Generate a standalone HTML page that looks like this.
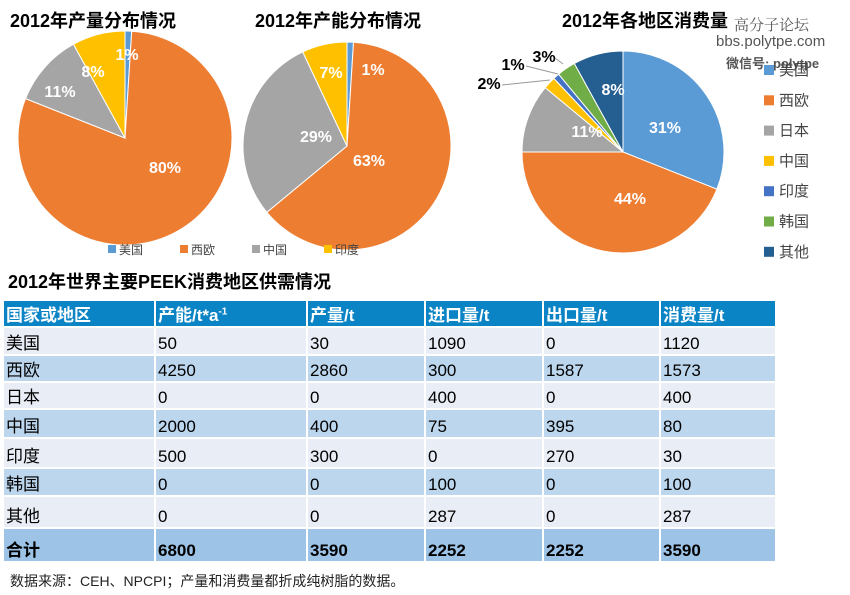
<!DOCTYPE html><html><head><meta charset="utf-8"><style>
body{margin:0;background:#fff;width:850px;height:595px;overflow:hidden;position:relative;font-family:"Liberation Sans","Noto Sans CJK SC",sans-serif}
.t{position:absolute;font-weight:bold;font-size:18px;color:#000;white-space:nowrap}
table{position:absolute;left:4px;top:301px;border-collapse:collapse;width:773px;font-size:17px;font-family:"Liberation Sans","Noto Sans CJK SC",sans-serif}
td{padding:0 0 0 2px;border-right:2px solid #fff;border-bottom:2px solid #fff;vertical-align:bottom}
tr.h td{background:#0b84c6;color:#fff;font-weight:bold;height:25px}
tr.a td{background:#e9edf6}tr.b td{background:#bcd6ee}tr.s td{background:#9dc3e6;font-weight:bold}
</style></head><body>
<div class="t" style="left:10px;top:7px">2012年产量分布情况</div>
<div class="t" style="left:255px;top:7px">2012年产能分布情况</div>
<div class="t" style="left:562px;top:7px">2012年各地区消费量</div>
<div style="position:absolute;left:734px;top:14px;font-size:15px;color:#555;font-family:'Liberation Serif','Noto Serif CJK SC',serif">高分子论坛</div>
<div style="position:absolute;left:716px;top:33px;font-size:15px;color:#555">bbs.polytpe.com</div>
<div style="position:absolute;left:726px;top:53px;font-size:13px;color:#555;font-weight:bold">微信号: polytpe</div>
<svg id="s" width="850" height="300" style="position:absolute;left:0;top:0" font-family="Liberation Sans,Noto Sans CJK SC,sans-serif"></svg>
<div class="t" style="left:8px;top:268px">2012年世界主要PEEK消费地区供需情况</div>
<table>
<colgroup><col style="width:151px"><col style="width:152px"><col style="width:118px"><col style="width:118px"><col style="width:117px"><col></colgroup>
<tr class="h"><td>国家或地区</td><td>产能/t*a<sup style="font-size:10px">-1</sup></td><td>产量/t</td><td>进口量/t</td><td>出口量/t</td><td>消费量/t</td></tr>
<tr class="a" style="height:28px"><td>美国</td><td>50</td><td>30</td><td>1090</td><td>0</td><td>1120</td></tr>
<tr class="b" style="height:26px"><td>西欧</td><td>4250</td><td>2860</td><td>300</td><td>1587</td><td>1573</td></tr>
<tr class="a" style="height:26px"><td>日本</td><td>0</td><td>0</td><td>400</td><td>0</td><td>400</td></tr>
<tr class="b" style="height:29px"><td>中国</td><td>2000</td><td>400</td><td>75</td><td>395</td><td>80</td></tr>
<tr class="a" style="height:30px"><td>印度</td><td>500</td><td>300</td><td>0</td><td>270</td><td>30</td></tr>
<tr class="b" style="height:28px"><td>韩国</td><td>0</td><td>0</td><td>100</td><td>0</td><td>100</td></tr>
<tr class="a" style="height:32px"><td>其他</td><td>0</td><td>0</td><td>287</td><td>0</td><td>287</td></tr>
<tr class="s" style="height:34px"><td>合计</td><td>6800</td><td>3590</td><td>2252</td><td>2252</td><td>3590</td></tr>
</table>
<div style="position:absolute;left:10px;top:571px;font-size:14px;color:#222">数据来源：CEH、NPCPI；产量和消费量都折成纯树脂的数据。</div>
<script>
var s=document.getElementById('s'),h='';
function pie(cx,cy,r,v,c){var a=0;for(var i=0;i<v.length;i++){var a0=a;a+=v[i]*2*Math.PI/100;
var x0=cx+r*Math.sin(a0),y0=cy-r*Math.cos(a0),x1=cx+r*Math.sin(a),y1=cy-r*Math.cos(a);
h+='<path d="M'+cx+' '+cy+'L'+x0+' '+y0+'A'+r+' '+r+' 0 '+((a-a0)>Math.PI?1:0)+' 1 '+x1+' '+y1+'Z" fill="'+c[i]+'" stroke="#fff" stroke-width="1"/>';}}
var B='#5b9bd5',O='#ed7d31',G='#a5a5a5',Y='#ffc000',D='#4472c4',N='#70ad47',V='#255e91';
pie(125,138,107,[1,80,11,8],[B,O,G,Y]);
pie(347,146,104,[1,63,29,7],[B,O,G,Y]);
pie(623,152,101,[31,44,11,2,1,3,8],[B,O,G,Y,D,N,V]);
function t(x,y,s,c){h+='<text x="'+x+'" y="'+y+'" fill="'+(c||'#fff')+'" font-weight="bold" font-size="16" text-anchor="middle">'+s+'</text>';}
t(127,60,'1%');t(93,77,'8%');t(60,97,'11%');t(165,173,'80%');
t(373,75,'1%');t(331,78,'7%');t(316,142,'29%');t(369,166,'63%');
t(665,133,'31%');t(630,204,'44%');t(587,137,'11%');t(613,95,'8%');
t(489,89,'2%','#000');t(513,70,'1%','#000');t(544,62,'3%','#000');
h+='<path d="M502 85L550 80M526 66L558 74M555 58L563 64" stroke="#999" fill="none"/>';
var L=[['美国',B],['西欧',O],['中国',G],['印度',Y]];
for(var i=0;i<4;i++){var x=108+i*72;h+='<rect x="'+x+'" y="245" width="8" height="8" fill="'+L[i][1]+'"/><text x="'+(x+11)+'" y="254" font-size="12" fill="#444">'+L[i][0]+'</text>';}
var M=[['美国',B],['西欧',O],['日本',G],['中国',Y],['印度',D],['韩国',N],['其他',V]];
for(var i=0;i<7;i++){var y=65+i*30.3;h+='<rect x="764" y="'+y+'" width="10" height="10" fill="'+M[i][1]+'"/><text x="779" y="'+(y+10)+'" font-size="15" fill="#444">'+M[i][0]+'</text>';}
s.innerHTML=h;
</script>
</body></html>
